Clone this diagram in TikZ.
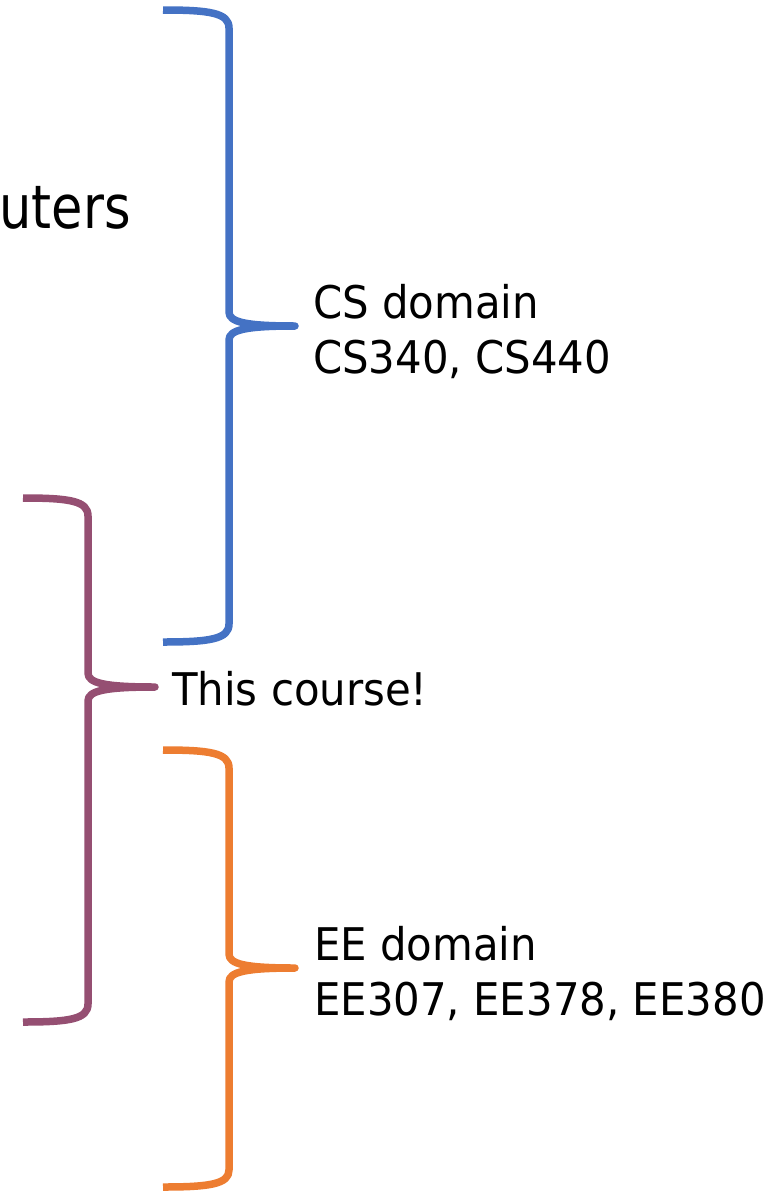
\documentclass[tikz,border=0pt]{standalone}
\usepackage{fontspec}
\setmainfont{DejaVu Sans}[FakeStretch=0.93]
\newfontfamily\headfont{DejaVu Sans}[FakeStretch=0.85]
\definecolor{braceblue}{HTML}{4472C4}
\definecolor{braceberry}{HTML}{954F72}
\definecolor{braceorange}{HTML}{ED7D31}
\begin{document}
\begin{tikzpicture}[x=1pt,y=-1pt,
  bracepath/.style={line width=7.5pt, line cap=butt, line join=round},
  txt/.style={font=\fontsize{45}{55}\selectfont, anchor=base west, inner sep=0pt},
  bigtxt/.style={font=\headfont\fontsize{60}{72}\selectfont, anchor=base east, inner sep=0pt},
]
\useasboundingbox (0,0) rectangle (779,1191);

% tips of the three braces
\coordinate (tipcs) at (295,326);
\coordinate (tipcourse) at (155,687);
\coordinate (tipee) at (295,968);

% CS brace
\draw[bracepath, braceblue]
  (163,10) .. controls (210,10) and (229,13) .. (229,28)
  -- (229,312) .. controls (229,322) and (245,326) .. (tipcs)
  .. controls (245,326) and (229,330) .. (229,340)
  -- (229,624) .. controls (229,639) and (210,642) .. (163,642);

% course brace
\draw[bracepath, braceberry]
  (23,498) .. controls (70,498) and (88,501) .. (88,516)
  -- (88,673) .. controls (88,683) and (104,687) .. (tipcourse)
  .. controls (104,687) and (88,691) .. (88,701)
  -- (88,1004) .. controls (88,1019) and (70,1022) .. (23,1022);

% EE brace
\draw[bracepath, braceorange]
  (163,750) .. controls (210,750) and (229,753) .. (229,768)
  -- (229,954) .. controls (229,964) and (245,968) .. (tipee)
  .. controls (245,968) and (229,972) .. (229,982)
  -- (229,1170) .. controls (229,1184) and (210,1187) .. (163,1187);

% labels
\node[bigtxt] (big) at (131,228) {uters};
\node[txt] (cs1) at (313,318) {CS domain};
\node[txt] (cs2) at (313,373) {CS340, CS440};
\node[txt] (course) at (172,705) {This course!};
\node[txt] (ee1) at (314,960) {EE domain};
\node[txt] (ee2) at (314,1015) {EE307, EE378, EE380};
\end{tikzpicture}
\end{document}
